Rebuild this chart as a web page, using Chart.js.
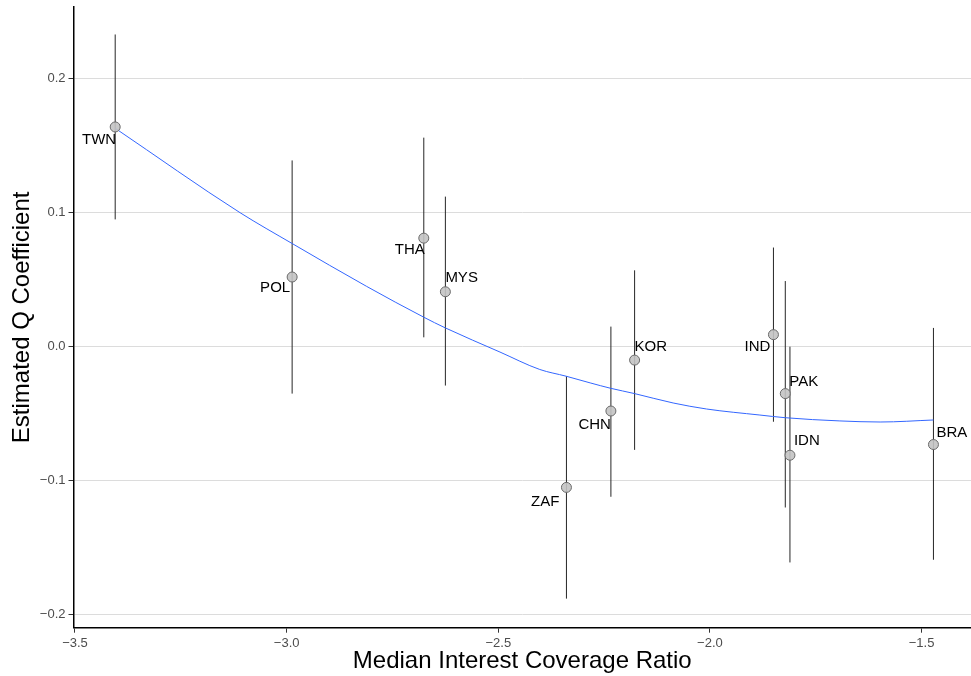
<!DOCTYPE html>
<html>
<head>
<meta charset="utf-8">
<script src="https://cdn.jsdelivr.net/npm/chart.js@4.4.1/dist/chart.umd.min.js"></script>
<style>
  html, body { margin: 0; padding: 0; background: #fff; }
  canvas { display: block; }
</style>
</head>
<body>
<canvas id="qChart" width="971" height="676"></canvas>
<script>
// pays + coefficient estimé et intervalle
const codes = ["TWN", "POL", "THA", "MYS", "ZAF", "CHN", "KOR", "IND", "PAK", "IDN", "BRA"];
const interestCoverage = [-3.405, -2.987, -2.676, -2.625, -2.339, -2.234, -2.178, -1.850, -1.822, -1.811, -1.472];
const qCoef = [0.164, 0.052, 0.081, 0.041, -0.105, -0.048, -0.010, 0.009, -0.035, -0.081, -0.073];
const qLow = [0.095, -0.035, 0.007, -0.029, -0.188, -0.112, -0.077, -0.056, -0.120, -0.161, -0.159];
const qHigh = [0.233, 0.139, 0.156, 0.112, -0.022, 0.015, 0.057, 0.074, 0.049, 0.000, 0.014];

// courbe lissée (loess)
const smoothX = [-3.405, -3.110, -2.987, -2.811, -2.676, -2.625, -2.496, -2.402, -2.340, -2.283, -2.235, -2.178, -2.087, -2.008, -1.882, -1.822, -1.693, -1.598, -1.472];
const smoothY = [0.163, 0.100, 0.077, 0.045, 0.022, 0.014, -0.004, -0.017, -0.022, -0.027, -0.031, -0.035, -0.042, -0.0465, -0.051, -0.053, -0.0554, -0.0562, -0.0547];

const xTicks = [-3.5, -3.0, -2.5, -2.0, -1.5];
const yTicks = [-0.2, -0.1, 0.0, 0.1, 0.2];

const FONT = "'Liberation Sans', Arial, sans-serif";

// décalage des étiquettes par pays : [dx, dy, alignement]
const labelNudge = {
  TWN: [1, 13, "right"], POL: [-2, 11, "right"], THA: [1, 12, "right"],
  MYS: [0, -14, "left"], ZAF: [-7, 14, "right"], CHN: [0, 14, "right"],
  KOR: [0, -13, "left"], IND: [-3, 12, "right"], PAK: [4, -12, "left"],
  IDN: [4, -14, "left"], BRA: [3, -12, "left"]
};

const fmt = v => (Math.abs(v) < 1e-9 ? 0 : v).toFixed(1).replace("-", "\u2212");

const errorBars = interestCoverage.flatMap((x, i) => [
  { x: x, y: qLow[i] }, { x: x, y: qHigh[i] }, { x: x, y: null }
]);

const etiquettes = {
  id: "etiquettes",
  afterDatasetsDraw(chart) {
    const ctx = chart.ctx;
    const meta = chart.getDatasetMeta(0);
    ctx.save();
    ctx.font = "15px " + FONT;
    ctx.fillStyle = "#000";
    ctx.textBaseline = "middle";
    meta.data.forEach((pt, i) => {
      const [dx, dy, align] = labelNudge[codes[i]];
      ctx.textAlign = align;
      ctx.fillText(codes[i], pt.x + dx, pt.y + dy);
    });
    ctx.restore();
  }
};

new Chart(document.getElementById("qChart"), {
  type: "scatter",
  data: {
    datasets: [
      {
        label: "pays",
        data: interestCoverage.map((x, i) => ({ x: x, y: qCoef[i] })),
        pointRadius: 5,
        pointBackgroundColor: "rgba(195,195,195,0.9)",
        pointBorderColor: "#6a6a6a",
        pointBorderWidth: 1
      },
      {
        label: "loess",
        type: "line",
        data: smoothX.map((x, i) => ({ x: x, y: smoothY[i] })),
        borderColor: "#3366FF",
        borderWidth: 1,
        pointRadius: 0,
        cubicInterpolationMode: "monotone",
        fill: false
      },
      {
        label: "intervalle",
        type: "line",
        data: errorBars,
        borderColor: "#262626",
        borderWidth: 1,
        pointRadius: 0,
        spanGaps: false,
        fill: false
      }
    ]
  },
  options: {
    responsive: false,
    animation: false,
    events: [],
    layout: { autoPadding: false, padding: { top: 7, right: 0, left: 0, bottom: 0 } },
    plugins: { legend: { display: false }, tooltip: { enabled: false } },
    scales: {
      x: {
        type: "linear",
        min: -3.5035,
        max: -1.3833,
        afterFit: s => { s.height = 48.3; s.paddingLeft = 0; s.paddingRight = 0; },
        afterBuildTicks: s => { s.ticks = xTicks.map(v => ({ value: v })); },
        border: { display: true, color: "#000", width: 1.5 },
        grid: { drawOnChartArea: false, drawTicks: true, tickLength: 5, tickColor: "#333", tickWidth: 1 },
        ticks: { color: "#4d4d4d", padding: 3, font: { family: FONT, size: 13 }, callback: v => fmt(v), maxRotation: 0 },
        title: { display: true, text: "Median Interest Coverage Ratio", color: "#000", font: { family: FONT, size: 24, lineHeight: 1.2 }, padding: { top: 0, bottom: 0 } }
      },
      y: {
        type: "linear",
        min: -0.2097,
        max: 0.2535,
        afterFit: s => { s.width = 73.5; s.paddingTop = 0; s.paddingBottom = 0; },
        afterBuildTicks: s => { s.ticks = yTicks.map(v => ({ value: v })); },
        border: { display: true, color: "#000", width: 1.5 },
        grid: { color: "#dcdcdc", lineWidth: 1, drawTicks: true, tickLength: 5, tickColor: "#333", tickWidth: 1 },
        ticks: { color: "#4d4d4d", padding: 3, font: { family: FONT, size: 13 }, callback: v => fmt(v) },
        title: { display: true, text: "Estimated Q Coefficient", color: "#000", font: { family: FONT, size: 24, lineHeight: 1.2 }, padding: { top: 8, bottom: 0 } }
      }
    }
  },
  plugins: [etiquettes]
});
</script>
</body>
</html>
